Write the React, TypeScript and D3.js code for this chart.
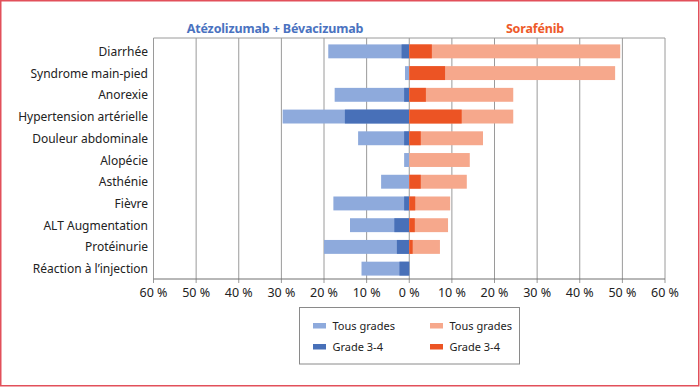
import * as d3 from 'd3';

const W = 700;
const H = 387;

const categories = [
  'Diarrhée',
  'Syndrome main-pied',
  'Anorexie',
  'Hypertension artérielle',
  'Douleur abdominale',
  'Alopécie',
  'Asthénie',
  'Fièvre',
  'ALT Augmentation',
  'Protéinurie',
  'Réaction à l’injection',
];
// Atézolizumab + Bévacizumab (drawn to the left)
const atezoAll = [19, 1, 17.5, 29.7, 12, 1.2, 6.6, 17.8, 13.9, 20, 11.2];
const atezoG34 = [1.8, 0, 1.2, 15.1, 1.2, 0, 0, 1.2, 3.5, 2.9, 2.3];
// Sorafénib (drawn to the right)
const soraAll = [49.5, 48.3, 24.4, 24.4, 17.3, 14.2, 13.5, 9.6, 9.1, 7.2, 0];
const soraG34 = [5.3, 8.4, 3.9, 12.3, 2.7, 0, 2.7, 1.4, 1.3, 0.8, 0];
const ticks = [-60, -50, -40, -30, -20, -10, 0, 10, 20, 30, 40, 50, 60];

const colors = {
  blueLight: '#8eaadc',
  blueDark: '#4870b8',
  orangeLight: '#f6a88c',
  orangeDark: '#ec5424',
};

const font = '"Noto Sans", sans-serif';
const plot = { left: 153.5, right: 665, top: 38, bottom: 279 };

export default function App() {
  const x = d3.scaleLinear().domain([-60, 60]).range([plot.left, plot.right]);
  const y = d3
    .scaleBand<string>()
    .domain(categories)
    .range([40.5, 279.5])
    .paddingInner(0.36)
    .paddingOuter(0.18);
  const bh = y.bandwidth();

  const bars = [
    { vals: atezoAll, sign: -1, color: colors.blueLight },
    { vals: atezoG34, sign: -1, color: colors.blueDark },
    { vals: soraAll, sign: 1, color: colors.orangeLight },
    { vals: soraG34, sign: 1, color: colors.orangeDark },
  ];

  const legend = [
    { label: 'Tous grades', color: colors.blueLight, x: 313, y: 323 },
    { label: 'Grade 3-4', color: colors.blueDark, x: 313, y: 344 },
    { label: 'Tous grades', color: colors.orangeLight, x: 430, y: 323 },
    { label: 'Grade 3-4', color: colors.orangeDark, x: 430, y: 344 },
  ];

  return (
    <svg
      width={W}
      height={H}
      style={{ position: 'absolute', left: 0, top: 0, background: '#fff' }}
      fontFamily={font}
    >
      <rect x={0.75} y={0.75} width={W - 2} height={H - 2} fill="#fff" stroke="#e2505a" strokeWidth={1.5} />

      {/* grid + frame */}
      {ticks.map((t) => (
        <line key={t} x1={x(t)} x2={x(t)} y1={plot.top} y2={plot.bottom + 4} stroke="#9a9a9a" strokeWidth={1} />
      ))}
      <line x1={plot.left} x2={plot.right} y1={plot.top} y2={plot.top} stroke="#9a9a9a" />
      <line x1={plot.left} x2={plot.right} y1={plot.bottom} y2={plot.bottom} stroke="#707070" />

      {/* bars */}
      {bars.map((s, si) =>
        categories.map((c, i) => {
          const v = s.vals[i];
          if (!v) return null;
          const x0 = s.sign < 0 ? x(-v) : x(0);
          const x1 = s.sign < 0 ? x(0) : x(v);
          return <rect key={si + c} x={x0} y={y(c)} width={x1 - x0} height={bh} fill={s.color} />;
        })
      )}

      {/* category labels */}
      {categories.map((c) => (
        <text key={c} x={148} y={(y(c) ?? 0) + bh / 2 + 4.5} textAnchor="end" fontSize={12} fill="#222">
          {c}
        </text>
      ))}

      {/* tick labels */}
      {ticks.map((t) => (
        <text key={t} x={x(t)} y={297} textAnchor="middle" fontSize={12.5} fill="#222">
          {`${Math.abs(t)} %`}
        </text>
      ))}

      {/* series titles */}
      <text x={275} y={32.5} textAnchor="middle" fontSize={12.5} fontWeight="bold" letterSpacing={-0.15} fill="#4a72c0">
        Atézolizumab + Bévacizumab
      </text>
      <text x={535} y={32.5} textAnchor="middle" fontSize={12.5} fontWeight="bold" letterSpacing={-0.15} fill="#ee5a2a">
        Sorafénib
      </text>

      {/* legend */}
      <rect x={299.5} y={307.5} width={220} height={56.5} fill="#fff" stroke="#8a8a8a" strokeWidth={1} />
      {legend.map((l, i) => (
        <g key={i}>
          <rect x={l.x} y={l.y} width={13} height={5.5} fill={l.color} />
          <text x={l.x + 19.5} y={l.y + 6.5} fontSize={11} fill="#222">
            {l.label}
          </text>
        </g>
      ))}
    </svg>
  );
}
